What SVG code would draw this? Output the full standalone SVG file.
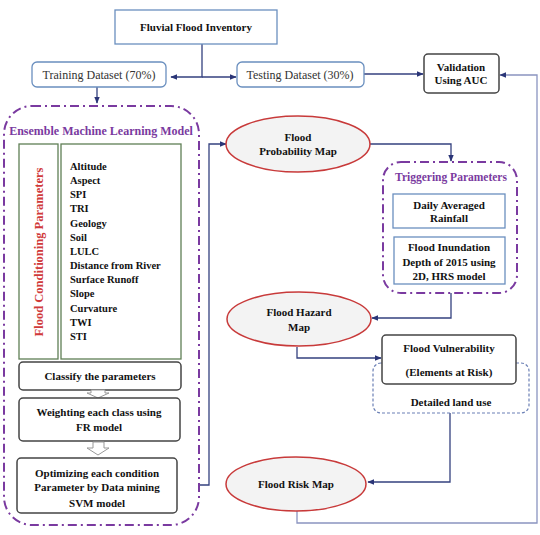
<svg xmlns="http://www.w3.org/2000/svg" width="540" height="535" viewBox="0 0 540 535">
<style>
text{font-family:"Liberation Serif","Times New Roman",serif;fill:#111;text-anchor:middle}
.b{font-weight:bold}
.t{font-size:11px;font-weight:bold}
.reg{font-size:12px;fill:#333}
.lst{font-size:10.5px;font-weight:bold;text-anchor:start}
.pur{fill:#7a3aa0;font-weight:bold;font-size:12px}
.bluebox{fill:#fff;stroke:#6a8fbf;stroke-width:1.3}
.darkbox{fill:#fff;stroke:#444;stroke-width:1.5}
.green{fill:#fff;stroke:#5f7f55;stroke-width:1.3}
.dd{fill:none;stroke:#7a3aa0;stroke-width:2;stroke-dasharray:9 4 2 4}
.ell{fill:#f3f3f3;stroke:#c83a3a;stroke-width:1.5}
.con{fill:none;stroke:#34417f;stroke-width:1.3}
.con2{fill:none;stroke:#8a94c0;stroke-width:1.3}
.hol{fill:#fff;stroke:#999;stroke-width:1}
</style>
<defs>
<marker id="ah" viewBox="0 0 10 10" refX="9" refY="5" markerWidth="7" markerHeight="7" orient="auto" markerUnits="userSpaceOnUse">
<path d="M0,1 L10,5 L0,9 z" fill="#2a3577"/>
</marker>
</defs>

<g id="connectors">
<path class="con" d="M202,44 V77 H171" marker-end="url(#ah)"/>
<path class="con" d="M202,77 H236" marker-end="url(#ah)"/>
<path class="con" d="M97,87 V103" marker-end="url(#ah)"/>
<path class="con" d="M364,74 H423" marker-end="url(#ah)"/>
<path class="con" d="M200,485 H209 V144 H226" marker-end="url(#ah)"/>
<path class="con" d="M370,144 H451 V161" marker-end="url(#ah)"/>
<path class="con" d="M451,293 V318 H372" marker-end="url(#ah)"/>
<path class="con" d="M297,347 V358 H381" marker-end="url(#ah)"/>
<path class="con" d="M450,413 V482 H368" marker-end="url(#ah)"/>
<path class="con2" d="M297,511 V523 H537 V75 H500" marker-end="url(#ah)"/>
</g>

<g id="inventory">
<rect class="bluebox" x="115" y="10" width="162" height="34"/>
<text class="t" x="196" y="31">Fluvial Flood Inventory</text>
</g>
<g id="training">
<rect class="bluebox" x="32" y="62" width="134" height="25" rx="5"/>
<text class="reg" x="99" y="79">Training Dataset (70%)</text>
</g>
<g id="testing">
<rect class="bluebox" x="237" y="62" width="127" height="25" rx="5"/>
<text class="reg" x="300" y="79">Testing Dataset (30%)</text>
</g>
<g id="validation">
<rect class="darkbox" x="424" y="54" width="75" height="39" rx="4"/>
<text class="t" x="461" y="71">Validation</text>
<text class="t" x="461" y="84">Using AUC</text>
</g>

<g id="ensemble">
<rect class="dd" x="4" y="106" width="195" height="419" rx="28"/>
<text class="pur" x="101" y="135">Ensemble Machine Learning Model</text>
</g>
<g id="conditioning">
<rect class="green" x="19" y="144" width="39" height="215"/>
<rect class="green" x="61" y="144" width="120" height="215"/>
<text x="43" y="252" transform="rotate(-90 43 252)" style="fill:#d03a3a;font-weight:bold;font-size:12.5px">Flood Conditioning Parameters</text>
<text class="lst" x="70" y="170">Altitude</text>
<text class="lst" x="70" y="184">Aspect</text>
<text class="lst" x="70" y="198">SPI</text>
<text class="lst" x="70" y="212">TRI</text>
<text class="lst" x="70" y="227">Geology</text>
<text class="lst" x="70" y="241">Soil</text>
<text class="lst" x="70" y="255">LULC</text>
<text class="lst" x="70" y="269">Distance from River</text>
<text class="lst" x="70" y="283">Surface Runoff</text>
<text class="lst" x="70" y="297">Slope</text>
<text class="lst" x="70" y="312">Curvature</text>
<text class="lst" x="70" y="326">TWI</text>
<text class="lst" x="70" y="340">STI</text>
</g>
<g id="classify">
<rect class="darkbox" x="19" y="362" width="162" height="28" rx="4"/>
<text class="t" x="100" y="380">Classify the parameters</text>
</g>
<path class="hol" d="M91,390 H105 V393 H109 L98,398 L87,393 H91 Z"/>
<g id="weighting">
<rect class="darkbox" x="19" y="398" width="161" height="43" rx="4"/>
<text class="t" x="99" y="416">Weighting each class using</text>
<text class="t" x="99" y="431">FR model</text>
</g>
<path class="hol" d="M93,442 H104 V448 H109 L98,455 L87,448 H93 Z"/>
<g id="optimizing">
<rect class="darkbox" x="17" y="458" width="160" height="55" rx="4"/>
<text class="t" x="97" y="477">Optimizing each condition</text>
<text class="t" x="97" y="491">Parameter by Data mining</text>
<text class="t" x="97" y="507">SVM model</text>
</g>

<g id="probability">
<ellipse class="ell" cx="298" cy="144" rx="72" ry="28"/>
<text class="t" x="298" y="141">Flood</text>
<text class="t" x="298" y="155">Probability Map</text>
</g>
<g id="triggering">
<rect class="dd" x="383" y="162" width="134" height="131" rx="18"/>
<text class="pur" x="451" y="181" style="font-size:11.5px">Triggering Parameters</text>
</g>
<g id="rainfall">
<rect class="bluebox" x="393" y="194" width="112" height="34"/>
<text class="t" x="449" y="209">Daily Averaged</text>
<text class="t" x="449" y="222">Rainfall</text>
</g>
<g id="inundation">
<rect class="bluebox" x="394" y="237" width="111" height="47"/>
<text class="t" x="449" y="251">Flood Inundation</text>
<text class="t" x="449" y="266">Depth of 2015 using</text>
<text class="t" x="449" y="280">2D, HRS model</text>
</g>
<g id="hazard">
<ellipse class="ell" cx="299" cy="319" rx="72" ry="27"/>
<text class="t" x="299" y="316">Flood Hazard</text>
<text class="t" x="299" y="331">Map</text>
</g>
<g id="landuse">
<rect x="373" y="363" width="156" height="50" rx="8" fill="#fff" stroke="#6a7fb5" stroke-width="1.2" stroke-dasharray="3 2"/>
<text class="t" x="451" y="406">Detailed land use</text>
</g>
<g id="vulnerability">
<rect class="darkbox" x="382" y="335" width="134" height="49" rx="4"/>
<text class="t" x="449" y="352">Flood Vulnerability</text>
<text class="t" x="449" y="376">(Elements at Risk)</text>
</g>
<g id="risk">
<ellipse class="ell" cx="296" cy="484" rx="70" ry="27"/>
<text class="t" x="296" y="488">Flood Risk Map</text>
</g>
</svg>
